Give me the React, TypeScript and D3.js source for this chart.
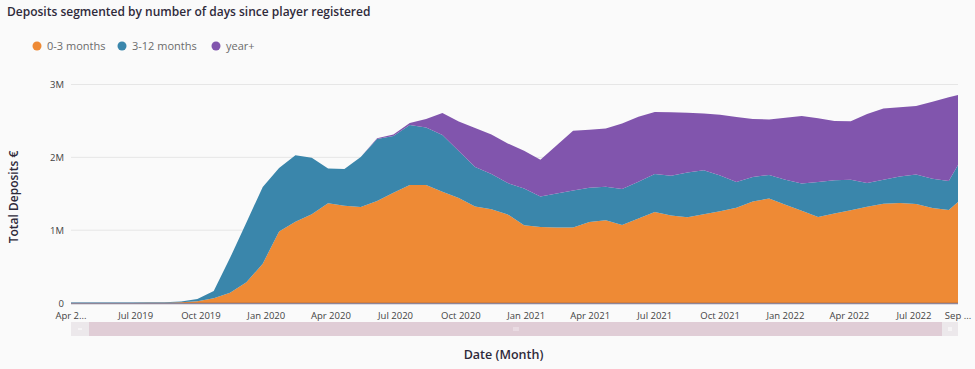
import * as d3 from 'd3';

// deposits per period, in €
const dates = [
  "2019-04-01", "2019-04-18", "2019-05-11", "2019-06-03", "2019-06-26", "2019-07-19", "2019-08-11",
  "2019-09-03", "2019-09-26", "2019-10-19", "2019-11-11", "2019-12-04", "2019-12-27", "2020-01-19",
  "2020-02-11", "2020-03-05", "2020-03-28", "2020-04-20", "2020-05-13", "2020-06-05", "2020-06-28",
  "2020-07-21", "2020-08-13", "2020-09-05", "2020-09-28", "2020-10-21", "2020-11-13", "2020-12-06",
  "2020-12-29", "2021-01-21", "2021-02-13", "2021-03-08", "2021-03-31", "2021-04-23", "2021-05-16",
  "2021-06-08", "2021-07-01", "2021-07-24", "2021-08-16", "2021-09-08", "2021-10-01", "2021-10-24",
  "2021-11-16", "2021-12-09", "2022-01-01", "2022-01-24", "2022-02-16", "2022-03-11", "2022-04-03",
  "2022-04-26", "2022-05-19", "2022-06-11", "2022-07-04", "2022-07-27", "2022-08-19", "2022-09-01"
];

const months0to3 = [
  0, 0, 0, 0, 0, 2000, 5000,
  10000, 23000, 66000, 140000, 284000, 540000, 980000,
  1117000, 1220000, 1371000, 1335000, 1319000, 1400000, 1515000,
  1621000, 1621000, 1529000, 1442000, 1326000, 1287000, 1216000,
  1066000, 1045000, 1038000, 1038000, 1111000, 1136000, 1071000,
  1159000, 1250000, 1203000, 1179000, 1218000, 1260000, 1309000,
  1393000, 1435000, 1350000, 1266000, 1181000, 1228000, 1275000,
  1321000, 1363000, 1372000, 1360000, 1306000, 1277000, 1387000
];

const months3to12 = [
  8000, 8000, 8000, 8000, 8000, 8000, 7000,
  10000, 32000, 99000, 480000, 822000, 1053000, 874000,
  913000, 776000, 475000, 505000, 686000, 853000, 779000,
  824000, 789000, 779000, 646000, 542000, 485000, 430000,
  507000, 417000, 466000, 505000, 471000, 460000, 495000,
  506000, 522000, 544000, 612000, 603000, 490000, 353000,
  338000, 322000, 341000, 375000, 481000, 459000, 417000,
  327000, 329000, 364000, 406000, 399000, 399000, 509000
];

const yearPlus = [
  0, 0, 0, 0, 0, 0, 0,
  0, 0, 0, 0, 0, 0, 0,
  0, 0, 0, 0, 0, 10000, 20000,
  28000, 115000, 302000, 405000, 536000, 543000, 544000,
  519000, 505000, 661000, 821000, 798000, 801000, 900000,
  893000, 849000, 873000, 822000, 782000, 835000, 893000,
  796000, 762000, 853000, 928000, 874000, 813000, 804000,
  948000, 978000, 951000, 940000, 1059000, 1148000, 961000
];

const seriesNames = ["0-3 months", "3-12 months", "year+"];
const seriesColors = ["#ee8a35", "#3a86ab", "#8155ad"];

const yTicks = [0, 1000000, 2000000, 3000000];
const yTickLabels = ["0", "1M", "2M", "3M"];

const xTickDates = [
  "2019-04-01", "2019-07-01", "2019-10-01", "2020-01-01", "2020-04-01", "2020-07-01", "2020-10-01",
  "2021-01-01", "2021-04-01", "2021-07-01", "2021-10-01", "2022-01-01", "2022-04-01", "2022-07-01",
  "2022-09-01"
];
const xTickLabels = [
  "Apr 2...", "Jul 2019", "Oct 2019", "Jan 2020", "Apr 2020", "Jul 2020", "Oct 2020",
  "Jan 2021", "Apr 2021", "Jul 2021", "Oct 2021", "Jan 2022", "Apr 2022", "Jul 2022",
  "Sep ..."
];

const W = 975;
const H = 369;
const margin = { top: 84.5, right: 17, bottom: 66, left: 71 };
const font = "'Open Sans', sans-serif";

export default function App() {
  const parse = d3.timeParse("%Y-%m-%d");
  const rows = dates.map((d, i) => ({
    date: parse(d) as Date,
    a: months0to3[i],
    b: months3to12[i],
    c: yearPlus[i],
  }));

  const x = d3.scaleTime()
    .domain([parse(dates[0]) as Date, parse(dates[dates.length - 1]) as Date])
    .range([margin.left, W - margin.right]);

  const y = d3.scaleLinear()
    .domain([0, 3000000])
    .range([H - margin.bottom, margin.top]);

  const stack = d3.stack<any>().keys(["a", "b", "c"]);
  const layers = stack(rows);

  const area = d3.area<any>()
    .x(d => x(d.data.date))
    .y0(d => y(d[0]))
    .y1(d => y(d[1]))
    .curve(d3.curveLinear);

  const x0 = x.range()[0];
  const x1 = x.range()[1];
  const baseY = y(0);

  // legend positions
  const legendX = [37, 122, 216];

  return (
    <div style={{ position: 'fixed', left: 0, top: 0, width: W, height: H, background: '#fafafa' }}>
      <svg width={W} height={H} style={{ display: 'block' }} fontFamily={font}>
        <rect x={0} y={0} width={W} height={H} fill="#fafafa" />

        <text x={7} y={16} fontSize={12} fontWeight={600} fill="#2f2a3a">
          Deposits segmented by number of days since player registered
        </text>

        {seriesNames.map((name, i) => (
          <g key={name}>
            <circle cx={legendX[i]} cy={46} r={4.5} fill={seriesColors[i]} />
            <text x={legendX[i] + 10} y={50} fontSize={11} fill="#6b6b6b">{name}</text>
          </g>
        ))}

        {yTicks.filter(t => t > 0).map(t => (
          <line key={t} x1={x0} x2={x1} y1={y(t)} y2={y(t)} stroke="#e6e6e6" strokeWidth={1} />
        ))}

        {layers.map((layer, i) => (
          <path key={i} d={area(layer) || ''} fill={seriesColors[i]} />
        ))}

        <line x1={x0} x2={x1} y1={baseY + 0.5} y2={baseY + 0.5} stroke="rgba(85,70,100,0.65)" strokeWidth={1.5} />

        {yTicks.map((t, i) => (
          <text key={t} x={64} y={y(t) + 3.5} fontSize={9.5} fill="#444" textAnchor="end">
            {yTickLabels[i]}
          </text>
        ))}

        {xTickDates.map((d, i) => (
          <text key={d} x={x(parse(d) as Date)} y={318.5} fontSize={9.5} fill="#444" textAnchor="middle">
            {xTickLabels[i]}
          </text>
        ))}

        <text transform={`translate(18, 197) rotate(-90)`} fontSize={12} fontWeight={600} fill="#2f2a3a" textAnchor="middle">
          Total Deposits €
        </text>

        {/* range slider */}
        <rect x={x0} y={322} width={x1 - x0} height={14} fill="#e0cdd6" />
        <rect x={x0} y={322} width={18} height={14} fill="#ece8eb" />
        <rect x={x1 - 16} y={322} width={16} height={14} fill="#ece8eb" />
        <line x1={x0 + 7} x2={x0 + 11} y1={329} y2={329} stroke="#ffffff" strokeWidth={1} />
        <line x1={x1 - 10} x2={x1 - 6} y1={328} y2={328} stroke="#ffffff" strokeWidth={1} />
        <line x1={x1 - 10} x2={x1 - 6} y1={330} y2={330} stroke="#ffffff" strokeWidth={1} />
        {[0, 2, 4].map(o => (
          <line key={o} x1={514 + o} x2={514 + o} y1={327} y2={331} stroke="#f2e8ee" strokeWidth={1} />
        ))}

        <text x={(x0 + x1) / 2 + 0} y={359} fontSize={12.5} fontWeight={600} fill="#2f2a3a" textAnchor="middle"
          dx={-11}>
          Date (Month)
        </text>
      </svg>
    </div>
  );
}
